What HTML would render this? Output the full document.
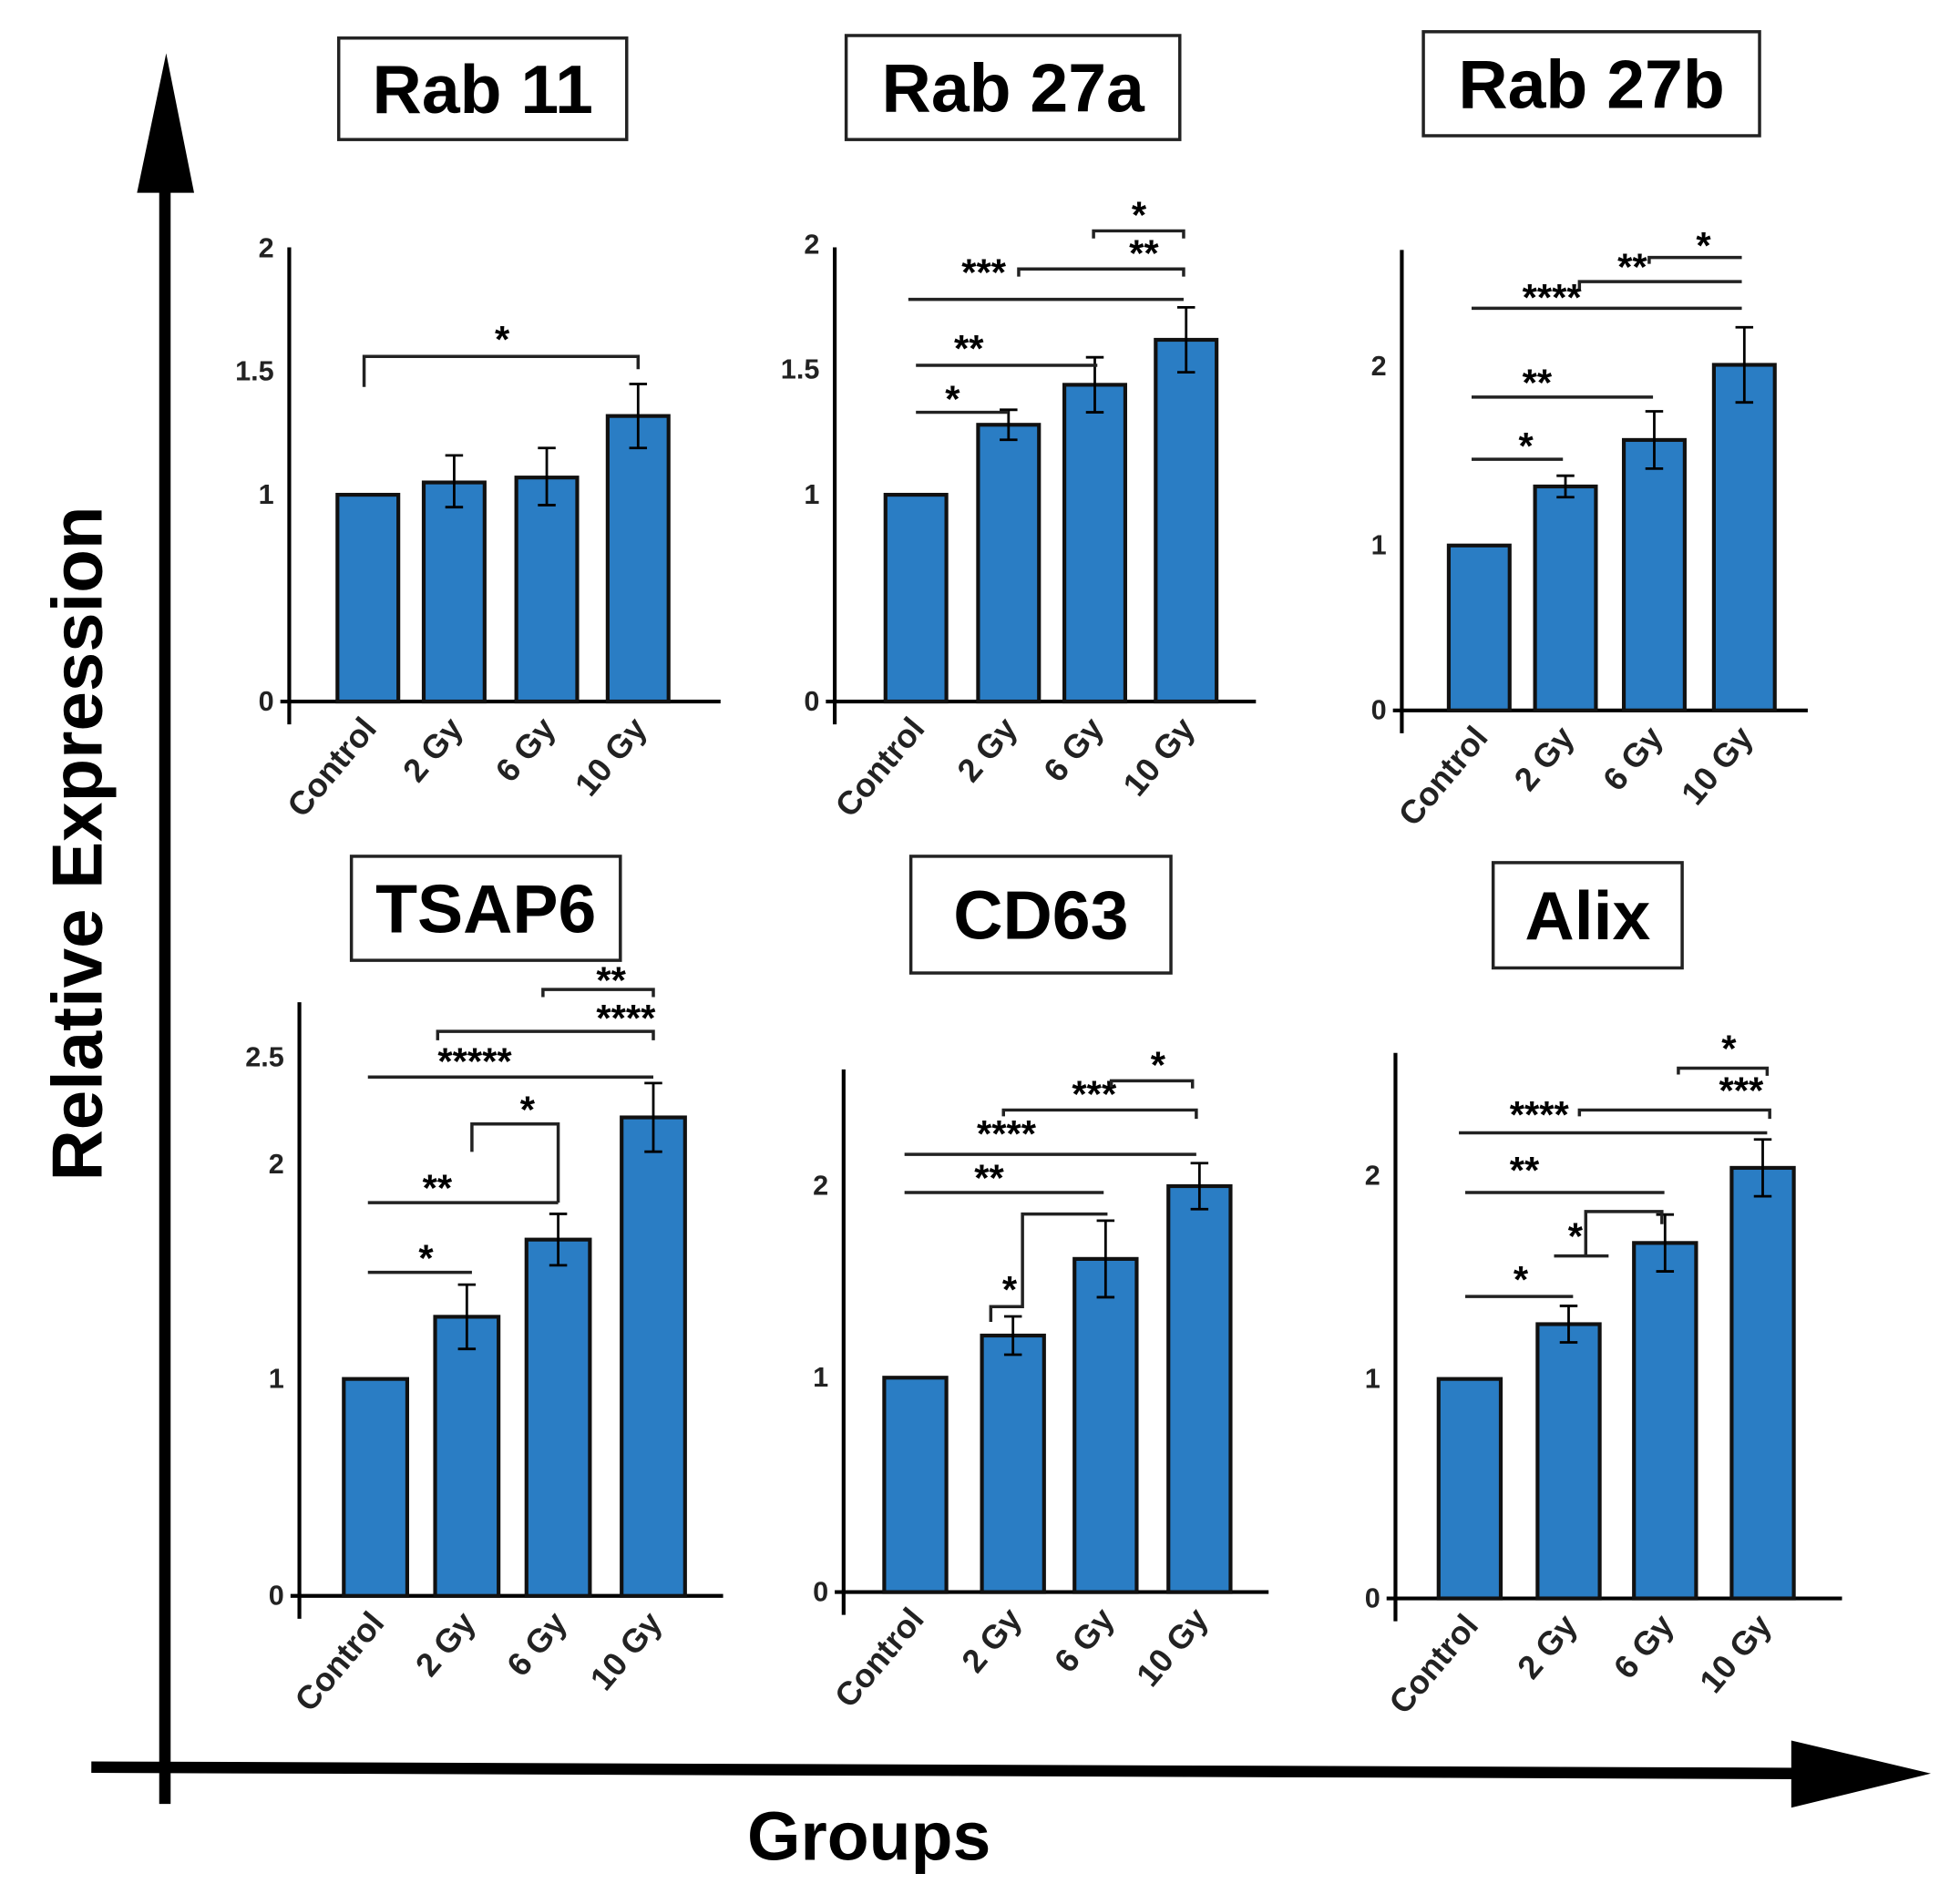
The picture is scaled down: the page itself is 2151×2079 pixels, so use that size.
<!DOCTYPE html>
<html><head><meta charset="utf-8"><style>
html,body{margin:0;padding:0;background:#fff}
svg{display:block}
text{font-family:"Liberation Sans",Arial,sans-serif}
</style></head><body>
<svg id="fig" width="2151" height="2079" viewBox="0 0 1545 1493" preserveAspectRatio="none" xmlns="http://www.w3.org/2000/svg">
<g>
<line x1="130" y1="1422" x2="130" y2="140" stroke="#000" stroke-width="9"/>
<polygon points="108,152 153,152 131,42" fill="#000"/>
<line x1="72" y1="1393" x2="1420" y2="1398" stroke="#000" stroke-width="9"/>
<polygon points="1412,1372 1412,1425 1522,1398" fill="#000"/>
<text x="0" y="0" transform="translate(80,665) rotate(-90)" text-anchor="middle" font-size="56" font-weight="bold">Relative Expression</text>
<text x="685" y="1466" text-anchor="middle" font-size="54" font-weight="bold">Groups</text>
</g>
</svg>
<script>
const categories=["Control","2 Gy","6 Gy","10 Gy"];
const titles=["Rab 11","Rab 27a","Rab 27b","TSAP6","CD63","Alix"];
const rab11Values=[1,1.05,1.07,1.32];
const rab11Err=[0,0.11,0.12,0.13];
const rab27aValues=[1,1.28,1.44,1.62];
const rab27aErr=[0,0.06,0.11,0.13];
const rab27bValues=[1,1.33,1.59,2.01];
const rab27bErr=[0,0.06,0.16,0.21];
const tsap6Values=[1,1.29,1.65,2.22];
const tsap6Err=[0,0.15,0.12,0.16];
const cd63Values=[1,1.22,1.62,2.0];
const cd63Err=[0,0.1,0.2,0.12];
const alixValues=[1,1.27,1.67,2.04];
const alixErr=[0,0.09,0.14,0.14];
const tickLabels=[["0","1","1.5","2"],["0","1","1.5","2"],["0","1","2"],["0","1","2","2.5"],["0","1","2"],["0","1","2"]];
const tickVals=[[0,1,1.5,2],[0,1,1.5,2],[0,1,2],[0,1,2,2.5],[0,1,2],[0,1,2]];
const values=[rab11Values,rab27aValues,rab27bValues,tsap6Values,cd63Values,alixValues];
const errs=[rab11Err,rab27aErr,rab27bErr,tsap6Err,cd63Err,alixErr];
// layout: axisX, top, base, y1px, y2px, barLefts, barW, axisEnd, title box
const L=[
 {ax:228,top:195,base:553,p1:390,p2:196,bx:[266,334,407,479],bw:48,xe:568,tb:[267,30,227,80]},
 {ax:658,top:195,base:553,p1:390,p2:193,bx:[698,771,839,911],bw:48,xe:990,tb:[667,28,263,82]},
 {ax:1105,top:197,base:560,p1:430,p2:289,bx:[1142,1210,1280,1351],bw:48,xe:1425,tb:[1122,25,265,82]},
 {ax:236,top:790,base:1258,p1:1087,p2:918,bx:[271,343,415,490],bw:50,xe:570,tb:[277,675,212,82]},
 {ax:665,top:843,base:1255,p1:1086,p2:935,bx:[697,774,847,921],bw:49,xe:1000,tb:[718,675,205,92]},
 {ax:1100,top:830,base:1260,p1:1087,p2:927,bx:[1134,1212,1288,1365],bw:49,xe:1452,tb:[1177,680,149,83]}
];
const sig=[
 [["p","287,305 287,281 503,281 503,291","*",390,278]],
 [["p","722,325 795,325","*",745,325],["p","722,288 865,288","**",752,285],["p","716,236 933,236","***",758,225],["p","803,218 803,212 933,212 933,218","**",890,210],["p","862,188 862,182 933,182 933,188","*",892,180]],
 [["p","1160,362 1232,362","*",1197,362],["p","1160,313 1303,313","**",1200,312],["p","1160,243 1373,243","****",1200,245],["p","1245,228 1245,222 1373,222","**",1275,221],["p","1300,208 1300,203 1373,203","*",1337,204]],
 [["p","290,1003 372,1003","*",330,1002],["p","290,948 440,948","**",333,947],["p","372,908 372,886 440,886 440,948","*",410,885],["p","290,849 515,849","*****",345,847],["p","345,820 345,813 515,813 515,820","****",470,813],["p","428,786 428,780 515,780 515,786","**",470,783]],
 [["p","781,1042 781,1030 806,1030 806,957 873,957","*",790,1027],["p","713,940 870,940","**",768,939],["p","713,910 943,910","****",770,904],["p","791,880 791,875 943,875 943,882","***",845,873],["p","876,857 876,852 940,852 940,858","*",907,850]],
 [["p","1155,1022 1240,1022","*",1193,1019],["p","1155,940 1312,940","**",1190,933],["p","1225,990 1268,990","*",1236,985],["p","1250,990 1250,955 1310,955 1310,965","",0,0],["p","1150,893 1393,893","****",1190,889],["p","1245,880 1245,875 1395,875 1395,882","***",1355,870],["p","1323,847 1323,842 1393,842 1393,848","*",1357,837]]
];
const NS="http://www.w3.org/2000/svg";
const svg=document.getElementById("fig");
function mk(t,a,p){const e=document.createElementNS(NS,t);for(const k in a)e.setAttribute(k,a[k]);p.appendChild(e);return e;}
function yScale(l,v){return v<=1?l.base-(l.base-l.p1)*v:l.p1-(v-1)*(l.p1-l.p2);}
L.forEach((l,pi)=>{
 const g=mk("g",{},svg);
 
 
 const tb=l.tb;
 const box=mk("rect",{x:tb[0],y:tb[1],width:tb[2],height:tb[3],fill:"#fff",stroke:"#222","stroke-width":2.5},g);
 
 
 const tt=mk("text",{x:tb[0]+tb[2]/2,y:tb[1]+tb[3]/2+19,"text-anchor":"middle","font-size":54,"font-weight":"bold"},g);
 tt.textContent=titles[pi];
 
 
 const ya=mk("line",{x1:l.ax,y1:l.top,x2:l.ax,y2:l.base+18,stroke:"#000","stroke-width":3},g);
 
 
 const xa=mk("line",{x1:l.ax-7,y1:l.base,x2:l.xe,y2:l.base,stroke:"#000","stroke-width":3},g);
 
 
 tickVals[pi].forEach((v,i)=>{
  const t=mk("text",{x:l.ax-12,y:yScale(l,v)+7,"text-anchor":"end","font-size":22,"font-weight":"bold",fill:"#222"},g);
  t.textContent=tickLabels[pi][i];
  
  
 });
 values[pi].forEach((v,i)=>{
  const x=l.bx[i],top=yScale(l,v);
  const b=mk("rect",{x:x,y:top,width:l.bw,height:l.base-top,fill:"#2a7dc4",stroke:"#111","stroke-width":3},g);
  
  
  const e=errs[pi][i];
  if(e>0){
   const cx=x+l.bw/2,y1=yScale(l,v+e),y2=yScale(l,v-e);
   const eb=mk("path",{d:`M${cx},${y1}V${y2}M${cx-7},${y1}H${cx+7}M${cx-7},${y2}H${cx+7}`,stroke:"#000","stroke-width":2,fill:"none"},g);
   
   
  }
  const cx=x+l.bw/2+8,cy=l.base+22;
  const lt=mk("text",{x:cx,y:cy,"text-anchor":"end","font-size":26,"font-weight":"bold",transform:`rotate(-50 ${cx} ${cy})`,fill:"#222"},g);
  lt.textContent=categories[i];
  
  
 });
 sig[pi].forEach(s=>{
  const pl=mk("polyline",{points:s[1],fill:"none",stroke:"#222","stroke-width":2.5},g);
  
  
  if(s[2]){
   const st=mk("text",{x:s[3],y:s[4],"font-size":30,"font-weight":"bold"},g);
   st.textContent=s[2];
   
   
  }
 });
});
</script>
</body></html>
